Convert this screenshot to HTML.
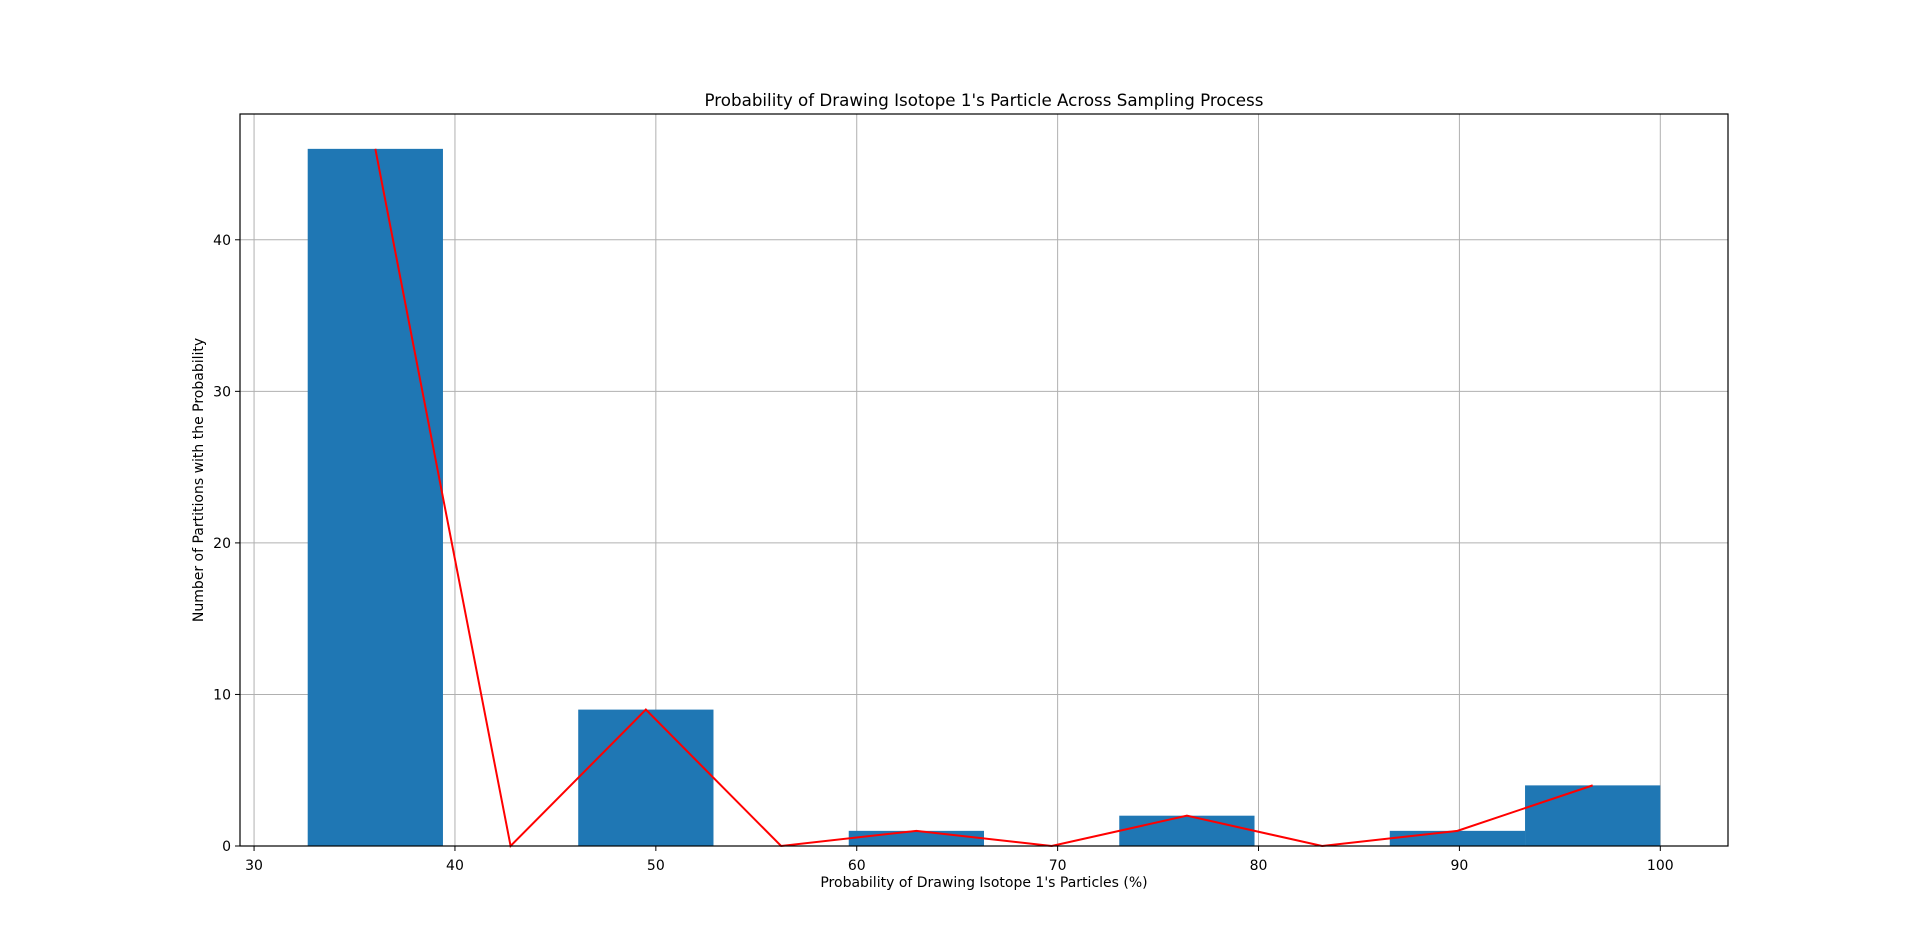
<!DOCTYPE html>
<html><head><meta charset="utf-8"><style>body{margin:0;background:#fff}svg{display:block;font-family:"DejaVu Sans","Liberation Sans",sans-serif}</style></head>
<body>
<svg id="chart" width="1920" height="951"></svg>
<script>
const binEdgesStart = 32.67, binEdgesEnd = 100;
const counts = [46, 0, 9, 0, 1, 0, 2, 0, 1, 4];
const xTicks = [30, 40, 50, 60, 70, 80, 90, 100];
const yTicks = [0, 10, 20, 30, 40];
const L=240,R=1728,T=114,B=846;
const xmin=29.3,xmax=103.37,ymin=0,ymax=48.3;
const sx=v=>L+(v-xmin)/(xmax-xmin)*(R-L);
const sy=v=>B-(v-ymin)/(ymax-ymin)*(B-T);
const NS='http://www.w3.org/2000/svg';
const svg=document.getElementById('chart');
function mk(t,a,p){const e=document.createElementNS(NS,t);for(const k in a)e.setAttribute(k,a[k]);(p||svg).appendChild(e);return e;}
const w=(binEdgesEnd-binEdgesStart)/counts.length;
// grid
xTicks.forEach(v=>{const g=mk('line',{x1:sx(v),x2:sx(v),y1:T,y2:B,stroke:'#b0b0b0','stroke-width':1});

});
yTicks.forEach(v=>{const g=mk('line',{x1:L,x2:R,y1:sy(v),y2:sy(v),stroke:'#b0b0b0','stroke-width':1});

});
// bars
counts.forEach((c,i)=>{if(c<=0)return;const x0=sx(binEdgesStart+i*w),x1=sx(binEdgesStart+(i+1)*w);
const r=mk('rect',{x:x0,y:sy(c),width:x1-x0,height:sy(0)-sy(c),fill:'#1f77b4'});

});
// line
const pts=counts.map((c,i)=>sx(binEdgesStart+(i+0.5)*w)+','+sy(c)).join(' ');
const pl=mk('polyline',{points:pts,fill:'none',stroke:'#ff0000','stroke-width':2});


// frame
const fr=mk('rect',{x:L,y:T,width:R-L,height:B-T,fill:'none',stroke:'#000','stroke-width':1.2});


xTicks.forEach(v=>{mk('line',{x1:sx(v),x2:sx(v),y1:B,y2:B+5,stroke:'#000'});
const t=mk('text',{x:sx(v),y:B+24,'text-anchor':'middle','font-size':14});t.textContent=v;

});
yTicks.forEach(v=>{mk('line',{x1:L-5,x2:L,y1:sy(v),y2:sy(v),stroke:'#000'});
const t=mk('text',{x:L-9,y:sy(v)+5,'text-anchor':'end','font-size':14});t.textContent=v;

});
let t=mk('text',{x:(L+R)/2,y:106,'text-anchor':'middle','font-size':16.7});t.textContent="Probability of Drawing Isotope 1's Particle Across Sampling Process";


t=mk('text',{x:(L+R)/2,y:887,'text-anchor':'middle','font-size':14});t.textContent="Probability of Drawing Isotope 1's Particles (%)";


t=mk('text',{x:0,y:0,'text-anchor':'middle','font-size':14,transform:`translate(203,${(T+B)/2}) rotate(-90)`});t.textContent="Number of Partitions with the Probability";


</script>
</body></html>
